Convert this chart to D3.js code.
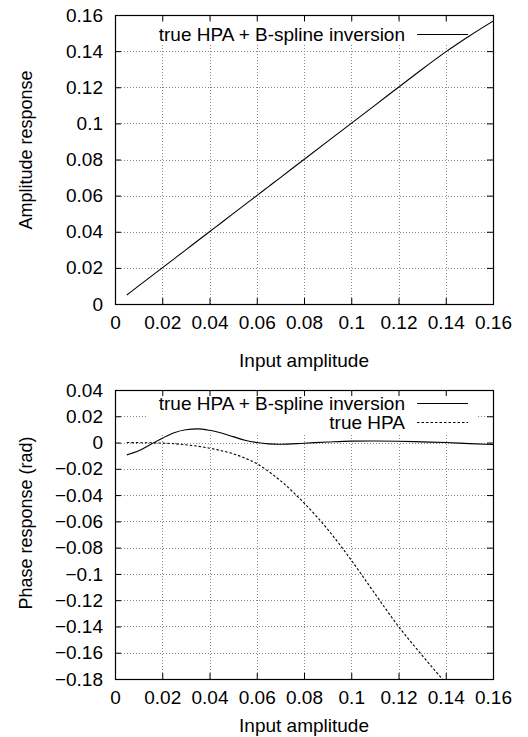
<!DOCTYPE html>
<html>
<head>
<meta charset="utf-8">
<script src="https://cdn.jsdelivr.net/npm/d3@7"></script>
<style>
  html, body { margin: 0; padding: 0; background: #fff; }
  svg { display: block; font-family: "Liberation Sans", Arial, sans-serif; }
</style>
</head>
<body>
<div id="svg-container"></div>
<script>
const [WIDTH, HEIGHT] = [528, 737]
const FONT = 19

// x positions shared by every curve (input amplitude)
const inputAmp = [0.005, 0.01, 0.015, 0.02, 0.025, 0.03, 0.035, 0.04, 0.045, 0.05, 0.055, 0.06, 0.065,
    0.07, 0.08, 0.09, 0.1, 0.11, 0.12, 0.13, 0.14, 0.15, 0.16]

// top panel: amplitude response after inversion
const ampInverted = [0.005, 0.01, 0.015, 0.02, 0.025, 0.03, 0.035, 0.04, 0.045, 0.05, 0.055, 0.06, 0.065,
    0.07, 0.08, 0.09, 0.1, 0.11, 0.12, 0.13, 0.1396, 0.1484, 0.1566]

// bottom panel: phase responses
const phaseInverted = [-0.0094, -0.0063, -0.0015, 0.0033, 0.0075, 0.0098, 0.0104, 0.0093, 0.0072, 0.0045, 0.0018, 0.0000, -0.0010,
    -0.0013, -0.0005, 0.0004, 0.0011, 0.0012, 0.0010, 0.0005, 0.0000, -0.0008, -0.0015]
const phaseHpa = [0.0, -0.0001, -0.0002, -0.0004, -0.0009, -0.0017, -0.0028, -0.0043, -0.0062, -0.0085, -0.0118, -0.0160, -0.0220,
    -0.029, -0.046, -0.066, -0.0895, -0.115, -0.140, -0.162, -0.183, -0.203, -0.222]

const xTicks = [0, 0.02, 0.04, 0.06, 0.08, 0.1, 0.12, 0.14, 0.16]
const ampTicks = [0, 0.02, 0.04, 0.06, 0.08, 0.1, 0.12, 0.14, 0.16]
const phaseTicks = [-0.18, -0.16, -0.14, -0.12, -0.1, -0.08, -0.06, -0.04, -0.02, 0, 0.02, 0.04]

const panels = [
    {
        id: 'amp', top: 15, bottom: 304, yDomain: [0, 0.16], yTicks: ampTicks,
        yLabel: 'Amplitude response', yLabelY: 150, xTitleOffset: 63,
        series: [{ name: 'true HPA + B-spline inversion', values: ampInverted, dash: null }],
        legendTop: 34,
    },
    {
        id: 'phase', top: 390, bottom: 679, yDomain: [-0.18, 0.04], yTicks: phaseTicks,
        yLabel: 'Phase response (rad)', yLabelY: 523, xTitleOffset: 53,
        series: [
            { name: 'true HPA + B-spline inversion', values: phaseInverted, dash: null },
            { name: 'true HPA', values: phaseHpa, dash: '2.5,2' },
        ],
        legendTop: 403,
    },
]

const LEFT = 115, RIGHT = 493

function fmt(v) {
    return d3.format('~g')(+v.toFixed(4))
}

function drawPanel(svg, p) {
    const x = d3.scaleLinear([0, 0.16], [LEFT, RIGHT])
    const y = d3.scaleLinear(p.yDomain, [p.bottom, p.top])
    const g = svg.append('g').classed(p.id, true)

    g.append('clipPath').attr('id', 'clip-' + p.id)
        .append('rect')
        .attr('x', LEFT).attr('y', p.top)
        .attr('width', RIGHT - LEFT).attr('height', p.bottom - p.top)

    // dotted grid
    const grid = g.append('g').attr('stroke', '#8a8a8a').attr('stroke-width', 1).attr('stroke-dasharray', '1,2')
    grid.selectAll('line.v').data(xTicks.slice(1, -1)).join('line')
        .attr('x1', d => Math.round(x(d)) + 0.5).attr('x2', d => Math.round(x(d)) + 0.5)
        .attr('y1', p.top).attr('y2', p.bottom)
    grid.selectAll('line.h').data(p.yTicks.slice(1, -1)).join('line')
        .attr('y1', d => Math.round(y(d)) + 0.5).attr('y2', d => Math.round(y(d)) + 0.5)
        .attr('x1', LEFT).attr('x2', RIGHT)

    // opaque key box
    const keyH = p.series.length * 19 + 4
    g.append('rect')
        .attr('x', 148).attr('y', p.legendTop - 12)
        .attr('width', 328).attr('height', keyH)
        .attr('fill', '#fff')

    // axes: inward ticks on all four sides
    const tick = 6
    g.append('g').attr('transform', `translate(0,${p.bottom})`)
        .call(d3.axisBottom(x).tickValues(xTicks).tickSize(-tick).tickPadding(12).tickFormat(fmt))
    g.append('g').attr('transform', `translate(0,${p.top})`)
        .call(d3.axisTop(x).tickValues(xTicks).tickSize(-tick).tickFormat(''))
    g.append('g').attr('transform', `translate(${LEFT},0)`)
        .call(d3.axisLeft(y).tickValues(p.yTicks).tickSize(-tick).tickPadding(12).tickFormat(fmt))
    g.append('g').attr('transform', `translate(${RIGHT},0)`)
        .call(d3.axisRight(y).tickValues(p.yTicks).tickSize(-tick).tickFormat(''))
    g.selectAll('.domain').remove()
    g.selectAll('.tick text').attr('font-size', FONT).attr('fill', '#000')
        .attr('font-family', '"Liberation Sans", Arial, sans-serif')
    g.selectAll('.tick line').attr('stroke', '#000')

    g.append('rect')
        .attr('x', LEFT + 0.5).attr('y', p.top + 0.5)
        .attr('width', RIGHT - LEFT).attr('height', p.bottom - p.top)
        .attr('fill', 'none').attr('stroke', '#000').attr('stroke-width', 1.2)

    // curves
    const line = d3.line().x((d, i) => x(inputAmp[i])).y(d => y(d)).curve(d3.curveMonotoneX)
    g.append('g').attr('clip-path', `url(#clip-${p.id})`)
        .selectAll('path').data(p.series).join('path')
        .attr('d', s => line(s.values))
        .attr('fill', 'none').attr('stroke', '#000').attr('stroke-width', 1.1)
        .attr('stroke-dasharray', s => s.dash)

    // key
    const key = g.append('g').selectAll('g').data(p.series).join('g')
        .attr('transform', (s, i) => `translate(0,${p.legendTop + i * 19})`)
    key.append('text').attr('x', 405).attr('y', 6.5)
        .attr('text-anchor', 'end').attr('font-size', FONT).text(s => s.name)
    key.append('line').attr('x1', 417).attr('x2', 468).attr('y1', 0.5).attr('y2', 0.5)
        .attr('stroke', '#000').attr('stroke-width', 1.1).attr('stroke-dasharray', s => s.dash)

    // axis titles
    g.append('text').attr('x', (LEFT + RIGHT) / 2).attr('y', p.bottom + p.xTitleOffset)
        .attr('text-anchor', 'middle').attr('font-size', FONT).text('Input amplitude')
    g.append('text').attr('transform', `translate(32,${p.yLabelY}) rotate(-90)`)
        .attr('text-anchor', 'middle').attr('font-size', 18).text(p.yLabel)
}

function main() {
    const svg = d3.select('#svg-container').append('svg')
        .attr('width', WIDTH)
        .attr('height', HEIGHT)
        .attr('viewBox', [0, 0, WIDTH, HEIGHT])
    panels.forEach(p => drawPanel(svg, p))
}

main()
</script>
</body>
</html>
